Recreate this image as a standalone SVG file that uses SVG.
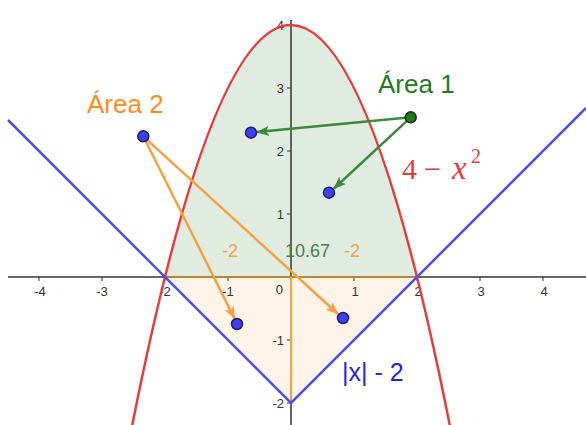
<svg xmlns="http://www.w3.org/2000/svg" width="586" height="425" viewBox="0 0 586 425">
<defs>
<style>
.tick{stroke:#333;stroke-width:1}
.tl{font-family:"Liberation Sans",Arial,sans-serif;font-size:13px;fill:#333}
.lbl{font-family:"Liberation Sans",Arial,sans-serif}
.pt{fill:#4040f0;stroke:#1a1a70;stroke-width:1.5}
.fx{font-family:"Liberation Serif",serif;fill:#e83a3a}
</style>
<marker id="ag" markerWidth="13" markerHeight="10" refX="12" refY="5" orient="auto" markerUnits="userSpaceOnUse" viewBox="0 0 13 10"><path d="M0,0 L13,5 L0,10 L3,5 Z" fill="#3a8a3a"/></marker>
<marker id="ao" markerWidth="13" markerHeight="10" refX="12" refY="5" orient="auto" markerUnits="userSpaceOnUse" viewBox="0 0 13 10"><path d="M0,0 L13,5 L0,10 L3,5 Z" fill="#f5a142"/></marker>
</defs>
<rect width="586" height="425" fill="#fff"/>
<g id="regions">
<path d="M165,277 Q291,-227 417,277 Z" fill="#e1ece1"/>
<path d="M165,277 L291,403 L417,277 Z" fill="#fdf3e6"/>
</g>
<g id="axes">
<line x1="8" y1="277" x2="586" y2="277" stroke="#333" stroke-width="1.5"/>
<line x1="291" y1="20" x2="291" y2="425" stroke="#333" stroke-width="1.5"/>
<g class="tick">
<line x1="39" y1="277" x2="39" y2="281"/><line x1="102" y1="277" x2="102" y2="281"/><line x1="165" y1="277" x2="165" y2="281"/><line x1="228" y1="277" x2="228" y2="281"/><line x1="354" y1="277" x2="354" y2="281"/><line x1="417" y1="277" x2="417" y2="281"/><line x1="480" y1="277" x2="480" y2="281"/><line x1="543" y1="277" x2="543" y2="281"/>
<line x1="287" y1="25" x2="291" y2="25"/><line x1="287" y1="88" x2="291" y2="88"/><line x1="287" y1="151" x2="291" y2="151"/><line x1="287" y1="214" x2="291" y2="214"/><line x1="287" y1="340" x2="291" y2="340"/><line x1="287" y1="403" x2="291" y2="403"/>
</g>
<g class="tl" text-anchor="middle">
<text x="40" y="296">-4</text><text x="102" y="296">-3</text><text x="165" y="296">-2</text><text x="228" y="296">-1</text><text x="355" y="296">1</text><text x="418" y="296">2</text><text x="481" y="296">3</text><text x="544" y="296">4</text>
</g>
<g class="tl" text-anchor="end">
<text x="283" y="294">0</text>
<text x="284" y="30">4</text><text x="284" y="93">3</text><text x="284" y="156">2</text><text x="284" y="219">1</text><text x="284" y="345">-1</text><text x="284" y="408">-2</text>
</g>
</g>
<g id="region-borders">
<line x1="165" y1="277" x2="417" y2="277" stroke="#b8862b" stroke-width="2"/>
<line x1="291" y1="277" x2="291" y2="403" stroke="#f5a142" stroke-width="2"/>
</g>
<g id="curves">
<path d="M127.2,450.9 Q291,-400.9 454.8,450.9" fill="none" stroke="#e83a3a" stroke-width="2.5"/>
<polyline points="8,120 291,403 586,108" fill="none" stroke="#4d4df2" stroke-width="2.5"/>
</g>
<g id="connectors" stroke-width="2.5" fill="none">
<line x1="410.7" y1="117.3" x2="257" y2="132.1" stroke="#3a8a3a" marker-end="url(#ag)"/>
<line x1="410.7" y1="117.3" x2="334" y2="188.5" stroke="#3a8a3a" marker-end="url(#ag)"/>
<line x1="143.3" y1="136.3" x2="234.5" y2="318.5" stroke="#f5a142" marker-end="url(#ao)"/>
<line x1="143.3" y1="136.3" x2="338" y2="314" stroke="#f5a142" marker-end="url(#ao)"/>
</g>
<g id="point-area2"><circle class="pt" cx="143.3" cy="136.3" r="5.5"/></g>
<g id="point-a"><circle class="pt" cx="251" cy="132.7" r="5.5"/></g>
<g id="point-area1"><circle cx="410.7" cy="117.3" r="5.5" fill="#1e7a1e" stroke="#0a330a" stroke-width="1.5"/></g>
<g id="point-b"><circle class="pt" cx="329" cy="192.7" r="5.5"/></g>
<g id="point-c"><circle class="pt" cx="237" cy="324" r="5.5"/></g>
<g id="point-d"><circle class="pt" cx="343" cy="318" r="5.5"/></g>
<g id="labels">
<text class="lbl" x="87" y="113" font-size="26" fill="#ff8c1a">Área 2</text>
<text class="lbl" x="378" y="93" font-size="26" fill="#1e7b1e">Área 1</text>
<text class="fx" font-size="30" y="179"><tspan x="402">4</tspan><tspan x="424">−</tspan><tspan x="452" font-style="italic" font-size="33">x</tspan><tspan x="471" y="163" font-size="20">2</tspan></text>
<text class="lbl" x="342" y="381" font-size="25" fill="#2424e8">|x| - 2</text>
<text class="lbl" x="222" y="257" font-size="18" fill="#f0a050">-2</text>
<text class="lbl" x="285" y="257" font-size="18" fill="#4a7f4a">10.67</text>
<text class="lbl" x="344" y="257" font-size="18" fill="#f0a050">-2</text>
</g>
</svg>
